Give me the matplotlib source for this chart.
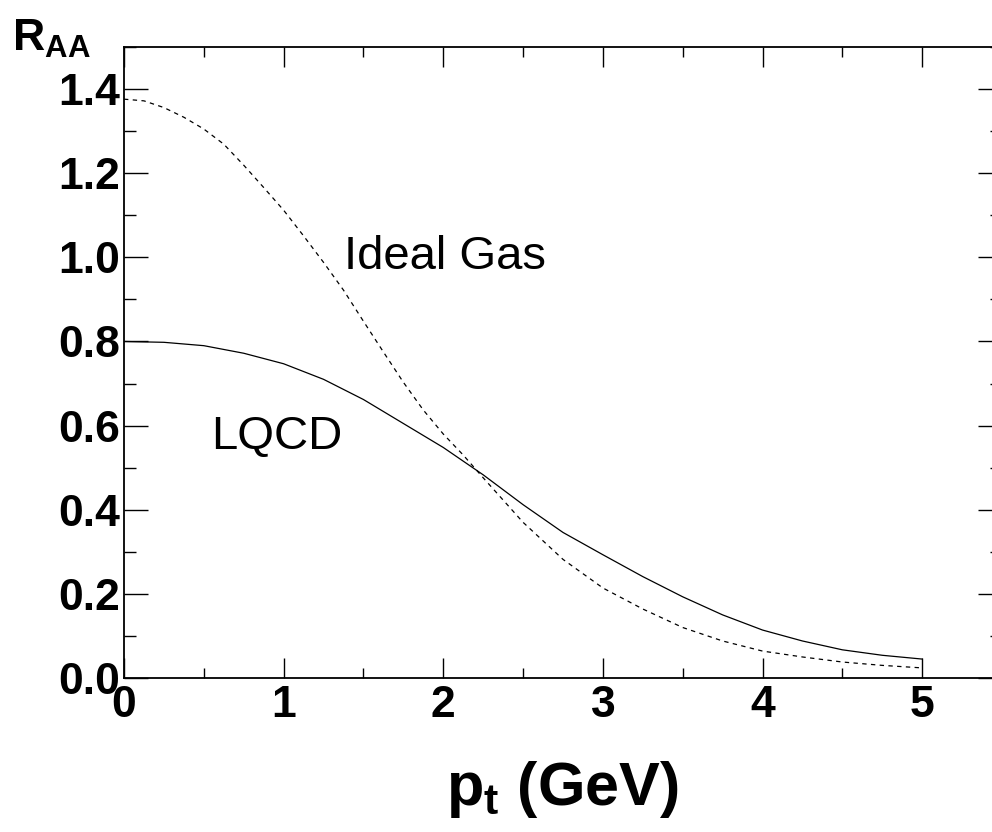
import numpy as np
import matplotlib
matplotlib.use("Agg")
import matplotlib.pyplot as plt
from matplotlib.ticker import MultipleLocator

plt.rcParams['font.family'] = ['Liberation Sans', 'DejaVu Sans']
plt.rcParams['mathtext.fontset'] = 'custom'
plt.rcParams['mathtext.rm'] = 'Liberation Sans'
plt.rcParams['mathtext.bf'] = 'Liberation Sans:bold'

# values
pt_ideal = [0.0, 0.125, 0.25, 0.375, 0.5, 0.625, 0.75, 0.875, 1.0, 1.125, 1.25,
            1.375, 1.5, 1.625, 1.75, 1.875, 2.0, 2.125, 2.25, 2.5, 2.75, 3.0,
            3.25, 3.5, 3.75, 4.0, 4.25, 4.5, 4.75, 5.0]
raa_ideal = [1.376, 1.372, 1.356, 1.333, 1.305, 1.269, 1.219, 1.166, 1.112, 1.051, 0.988,
             0.922, 0.848, 0.775, 0.703, 0.637, 0.58, 0.53, 0.476, 0.37, 0.282, 0.214,
             0.164, 0.12, 0.088, 0.064, 0.05, 0.038, 0.03, 0.024]

pt_lqcd = [0.0, 0.25, 0.5, 0.75, 1.0, 1.25, 1.5, 1.75, 2.0, 2.25, 2.5,
           2.75, 3.0, 3.25, 3.5, 3.75, 4.0, 4.25, 4.5, 4.75, 5.0]
raa_lqcd = [0.80, 0.798, 0.79, 0.772, 0.747, 0.71, 0.662, 0.605, 0.548, 0.483, 0.412,
            0.346, 0.293, 0.241, 0.193, 0.15, 0.114, 0.088, 0.067, 0.054, 0.045]

x_ticks = [0, 1, 2, 3, 4, 5]
y_ticks = [0.0, 0.2, 0.4, 0.6, 0.8, 1.0, 1.2, 1.4]


def main():
    fig = plt.figure(figsize=(9.92, 8.32), dpi=100)
    ax = fig.add_axes([124 / 992, 1 - 678 / 832, (1002 - 124) / 992, (678 - 47) / 832])

    ax.plot(pt_lqcd, raa_lqcd, color='black', lw=0.9, ls='-')
    ax.plot(pt_ideal, raa_ideal, color='black', lw=0.9, ls=(0, (3.5, 3.5)))

    ax.set_xlim(0, 5.5)
    ax.set_ylim(0, 1.5)
    ax.set_xticks(x_ticks)
    ax.set_yticks(y_ticks)
    ax.set_xticklabels([str(v) for v in x_ticks])
    ax.set_yticklabels([f"{v:.1f}" for v in y_ticks])
    ax.xaxis.set_minor_locator(MultipleLocator(0.5))
    ax.yaxis.set_minor_locator(MultipleLocator(0.1))

    ax.tick_params(which='both', direction='in', top=True, right=True, width=1.0,
                   labelsize=32, color='black')
    ax.tick_params(axis='x', which='major', length=14.4, pad=5)
    ax.tick_params(axis='x', which='minor', length=7.2)
    ax.tick_params(axis='y', which='major', length=17.3, pad=3)
    ax.tick_params(axis='y', which='minor', length=8.6)
    for lab in ax.get_xticklabels() + ax.get_yticklabels():
        lab.set_fontweight('bold')
    for sp in ax.spines.values():
        sp.set_linewidth(1.3)

    ax.text(1.38, 1.0, "Ideal Gas", fontsize=34, va='center', ha='left')
    ax.text(0.545, 0.574, "LQCD", fontsize=34, va='center', ha='left')

    fig.text(562 / 992, 1 - 790 / 832, r"$\mathbf{p_t}$ (GeV)", fontsize=44,
             fontweight='bold', ha='center', va='center')
    fig.text(12 / 992, 1 - 39 / 832, r"$\mathbf{R_{AA}}$", fontsize=32,
             fontweight='bold', ha='left', va='center')

    fig.savefig("out.png", dpi=100)
    plt.close(fig)


if __name__ == "__main__":
    main()
